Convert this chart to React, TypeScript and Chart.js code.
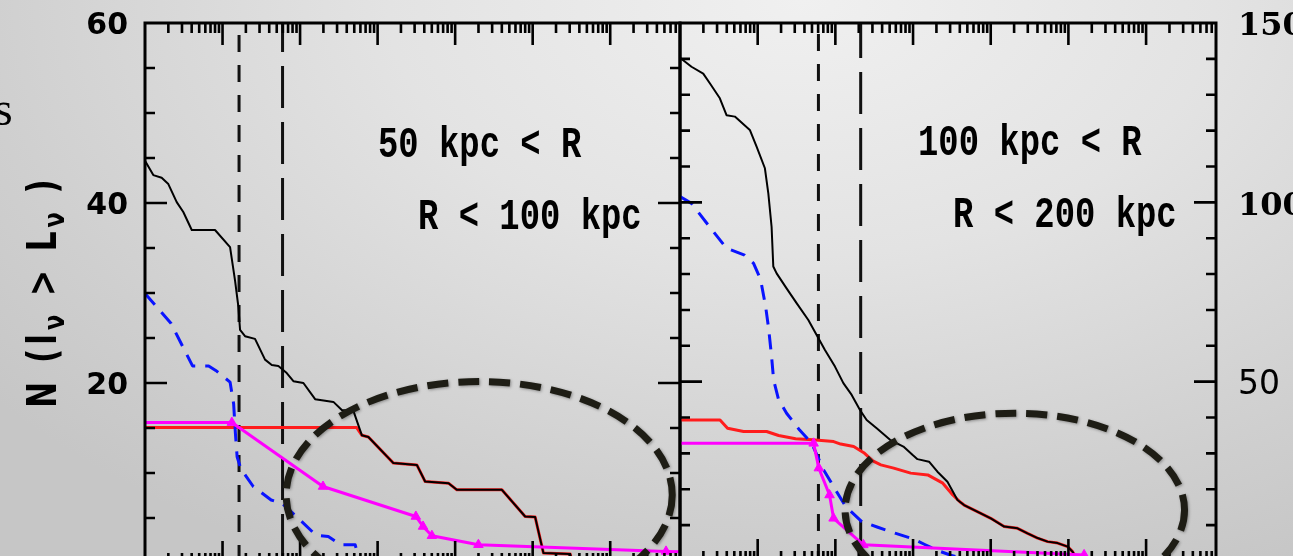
import React, { useEffect, useRef } from "react";
import { Chart, registerables } from "chart.js";

Chart.register(...registerables);

// ---------- shared x axis: log10 of L_nu (one decade per major tick) ----------
const logLMin = 15;
const logLMax = 21.9;

// ---------- left panel: 50 kpc < R < 100 kpc ----------
const leftLabels = ["50 kpc < R", "R < 100 kpc"];
const leftNMax = 60;
const leftNMajor = 20;
const leftNMinor = 5;

const leftBlackLogL = [15.0, 15.107, 15.215, 15.301, 15.409, 15.494, 15.603, 15.903, 16.097, 16.161, 16.204, 16.226, 16.29, 16.419, 16.548, 16.635, 16.72, 16.828, 16.914, 17.043, 17.194, 17.345, 17.43, 17.538, 17.688, 17.796, 17.881, 18.204, 18.506, 18.613, 18.914, 19.022, 19.603, 19.903, 20.032, 20.139, 20.484, 20.51];
const leftBlackN = [44.7, 43.1, 42.8, 42.1, 40.1, 39.0, 37.0, 37.0, 35.1, 31.4, 28.5, 25.9, 25.2, 24.9, 22.6, 22.0, 21.9, 21.1, 20.2, 20.0, 18.2, 18.0, 17.9, 17.0, 16.9, 14.2, 14.0, 11.1, 10.9, 9.05, 8.87, 8.13, 8.13, 5.17, 5.1, 1.1, 1.0, 0];

const leftRedLogL = [15.0, 17.73, 17.796, 17.881, 18.204, 18.506, 18.613, 18.914, 19.022, 19.603, 19.903, 20.032, 20.139, 20.484, 20.51];
const leftRedN = [15.05, 15.05, 14.2, 14.0, 11.1, 10.9, 9.05, 8.87, 8.13, 8.13, 5.17, 5.1, 1.1, 1.0, 0];

const leftBlueLogL = [15.0, 15.337, 15.498, 15.613, 15.821, 15.912, 16.097, 16.143, 16.166, 16.188, 16.235, 16.396, 16.627, 16.765, 16.973, 17.203, 17.364, 17.525, 17.71, 17.774];
const leftBlueN = [29.95, 26.6, 23.85, 21.9, 21.9, 21.4, 20.1, 17.7, 14.4, 11.8, 10.5, 8.5, 7.0, 6.65, 5.0, 3.1, 2.95, 2.03, 2.03, 0];

const leftMagentaLogL = [15.0, 16.12, 17.296, 18.493, 18.586, 18.7, 19.3, 21.72, 21.9];
const leftMagentaN = [15.6, 15.6, 8.5, 5.17, 4.06, 3.03, 2.03, 1.29, 1.25];
const leftMagentaMarked = [false, true, true, true, true, true, true, true, false];

const leftLimitShortLogL = 16.213;
const leftLimitLongLogL = 16.774;

const leftEllipse = { centerLogL: 19.31, centerN: 7.56, halfWidthDex: 2.49, halfHeightN: 12.6 };

// ---------- right panel: 100 kpc < R < 200 kpc ----------
const rightLabels = ["100 kpc < R", "R < 200 kpc"];
const rightNMax = 150;
const rightNMajor = 50;
const rightNMinor = 10;

const rightBlackLogL = [15.0, 15.148, 15.299, 15.384, 15.513, 15.599, 15.706, 15.899, 15.986, 16.093, 16.137, 16.179, 16.201, 16.244, 16.372, 16.501, 16.652, 16.759, 16.866, 16.995, 17.103, 17.21, 17.317, 17.403, 17.532, 17.704, 17.876, 17.992, 18.057, 18.206, 18.314, 18.443, 18.572, 18.657, 18.872, 19.001, 19.173, 19.345, 19.474, 19.603, 19.732, 19.861, 19.99, 20.054, 20.097, 20.135];
const rightBlackN = [140.3, 137.8, 135.9, 133.2, 129.0, 124.3, 123.9, 120.2, 115.5, 109.5, 102.5, 93.2, 82.1, 80.2, 76.0, 71.9, 67.2, 63.0, 58.8, 54.2, 49.6, 46.3, 42.1, 39.3, 37.0, 33.8, 31.9, 29.6, 28.4, 27.7, 24.9, 22.1, 17.0, 15.6, 13.3, 11.9, 9.6, 9.1, 7.7, 6.4, 5.4, 5.0, 4.0, 2.6, 1.0, 0];

const rightRedLogL = [15.0, 15.515, 15.612, 15.818, 16.115, 16.269, 16.488, 16.707, 16.978, 17.068, 17.236, 17.366, 17.482, 17.585, 17.751, 17.97, 18.189, 18.383, 18.512, 18.615, 18.657, 18.872, 19.001, 19.173, 19.345, 19.474, 19.603, 19.732, 19.861, 19.99, 20.054, 20.097, 20.135];
const rightRedN = [39.3, 39.3, 37.0, 36.1, 36.1, 35.0, 34.1, 33.8, 33.3, 32.6, 31.9, 30.2, 27.9, 26.8, 25.9, 24.5, 24.0, 21.7, 18.4, 16.3, 15.6, 13.3, 11.9, 9.6, 9.1, 7.7, 6.4, 5.4, 5.0, 4.0, 2.6, 1.0, 0];

const rightBlueLogL = [15.0, 15.148, 15.38, 15.599, 15.831, 15.947, 16.037, 16.102, 16.14, 16.179, 16.205, 16.269, 16.372, 16.54, 16.695, 16.785, 16.824, 16.978, 17.133, 17.34, 17.546, 17.778, 17.997, 18.151, 18.332, 18.486, 18.679];
const rightBlueN = [101.6, 99.7, 93.2, 87.2, 85.3, 83.0, 78.5, 71.0, 65.0, 57.0, 50.5, 45.0, 41.2, 36.5, 32.8, 28.5, 26.3, 20.7, 15.2, 11.0, 9.4, 7.7, 6.2, 4.6, 2.8, 1.6, 0.5];

const rightMagentaLogL = [15.0, 16.72, 16.787, 16.925, 16.977, 17.361, 20.202];
const rightMagentaN = [32.8, 32.8, 25.9, 18.4, 11.9, 4.5, 1.7];
const rightMagentaMarked = [false, true, true, true, true, true, true];

const rightLimitShortLogL = 16.782;
const rightLimitLongLogL = 17.326;

const rightEllipse = { centerLogL: 19.31, centerN: 14.2, halfWidthDex: 2.185, halfHeightN: 27.0 };

// ---------- helpers ----------
const pts = (logL: number[], n: number[]) => logL.map((l, i) => ({ x: Math.pow(10, l), y: n[i] }));
const vline = (logL: number, nMax: number) => [
  { x: Math.pow(10, logL), y: nMax },
  { x: Math.pow(10, logL), y: 0 },
];

const MAGENTA = "#ff00ff";
const RED = "#ff1c1c";
const BLUE = "#0a14ff";

const zeroPadding = (s: any) => {
  s.paddingTop = 0;
  s.paddingBottom = 0;
  s.paddingLeft = 0;
  s.paddingRight = 0;
};

const panelDecor = {
  id: "panelDecor",
  afterDatasetsDraw(chart: any, _args: any, opts: any) {
    const { ctx, chartArea: a } = chart;
    const xs = chart.scales.x;
    const ys = chart.scales.y;
    ctx.save();
    // frame
    ctx.strokeStyle = "#000";
    ctx.lineWidth = 3;
    ctx.strokeRect(a.left, a.top, a.right - a.left, a.bottom - a.top);
    // x ticks (log decades with minor ticks), inward on top and bottom
    ctx.lineWidth = 2.6;
    ctx.beginPath();
    const eMin = Math.floor(Math.log10(xs.min));
    const eMax = Math.ceil(Math.log10(xs.max));
    for (let e = eMin; e <= eMax; e++) {
      for (let m = 1; m <= 9; m++) {
        const v = m * Math.pow(10, e);
        if (v <= xs.min * 1.0001 || v > xs.max) continue;
        const px = xs.getPixelForValue(v);
        const len = m === 1 ? 22 : 10;
        ctx.moveTo(px, a.top);
        ctx.lineTo(px, a.top + len);
        ctx.moveTo(px, a.bottom);
        ctx.lineTo(px, a.bottom - len);
      }
    }
    // y ticks, inward on left and right
    for (let v = opts.minor; v < ys.max; v += opts.minor) {
      const py = ys.getPixelForValue(v);
      const len = v % opts.major === 0 ? 22 : 10;
      ctx.moveTo(a.left, py);
      ctx.lineTo(a.left + len, py);
      ctx.moveTo(a.right, py);
      ctx.lineTo(a.right - len, py);
    }
    ctx.stroke();
    // panel labels
    ctx.fillStyle = "#000";
    ctx.font = 'bold 44px "Liberation Mono"';
    ctx.textBaseline = "alphabetic";
    ctx.textAlign = "left";
    for (const t of opts.texts) {
      ctx.save();
      ctx.translate(a.left + t.dx, a.top + t.dy);
      ctx.scale(0.77, 1);
      ctx.fillText(t.text, 0, 0);
      ctx.restore();
    }
    // highlighted region (dashed ellipse)
    const el = opts.ellipse;
    const cx = xs.getPixelForValue(Math.pow(10, el.centerLogL));
    const rx = xs.getPixelForValue(Math.pow(10, el.centerLogL + el.halfWidthDex)) - cx;
    const cy = ys.getPixelForValue(el.centerN);
    const ry = cy - ys.getPixelForValue(el.centerN + el.halfHeightN);
    ctx.setLineDash([21, 10]);
    ctx.lineWidth = 7;
    ctx.strokeStyle = "#1e1d15";
    ctx.shadowColor = "rgba(0,0,0,0.35)";
    ctx.shadowBlur = 3;
    ctx.shadowOffsetX = 1;
    ctx.shadowOffsetY = 1;
    ctx.beginPath();
    ctx.ellipse(cx, cy, rx, ry, 0, 0, Math.PI * 2);
    ctx.stroke();
    ctx.restore();
  },
};

function panelConfig(p: any) {
  return {
    type: "line",
    data: {
      datasets: [
        {
          data: pts(p.magLogL, p.magN),
          borderColor: MAGENTA,
          backgroundColor: MAGENTA,
          borderWidth: 3,
          pointStyle: "triangle",
          pointRadius: p.magMarked.map((m: boolean) => (m ? 5.5 : 0)),
          pointBackgroundColor: MAGENTA,
          pointBorderColor: MAGENTA,
          pointBorderWidth: 1,
        },
        { data: pts(p.blackLogL, p.blackN), borderColor: "#000", borderWidth: 2, pointRadius: 0 },
        { data: pts(p.blueLogL, p.blueN), borderColor: BLUE, borderWidth: 3, borderDash: [15, 10], pointRadius: 0 },
        { data: pts(p.redLogL, p.redN), borderColor: RED, borderWidth: 3, pointRadius: 0 },
        {
          data: vline(p.shortLogL, p.nMax),
          borderColor: "#111",
          borderWidth: 3,
          borderDash: [17, 13],
          borderDashOffset: p.shortOffset,
          pointRadius: 0,
        },
        {
          data: vline(p.longLogL, p.nMax),
          borderColor: "#111",
          borderWidth: 3,
          borderDash: [42, 14],
          borderDashOffset: p.longOffset,
          pointRadius: 0,
        },
      ],
    },
    options: {
      animation: false,
      responsive: false,
      maintainAspectRatio: false,
      events: [],
      elements: { line: { tension: 0, fill: false, borderCapStyle: "butt", borderJoinStyle: "round" } },
      layout: { padding: p.padding },
      plugins: {
        legend: { display: false },
        tooltip: { enabled: false },
        panelDecor: { major: p.nMajor, minor: p.nMinor, texts: p.texts, ellipse: p.ellipse },
      },
      scales: {
        x: {
          type: "logarithmic",
          min: Math.pow(10, logLMin),
          max: Math.pow(10, logLMax),
          grid: { display: false, drawTicks: false },
          border: { display: false },
          ticks: { display: false },
          afterFit: (s: any) => {
            s.height = 0;
            zeroPadding(s);
          },
        },
        y: {
          type: "linear",
          position: p.yPosition,
          min: 0,
          max: p.nMax,
          grid: { display: false, drawTicks: false },
          border: { display: false },
          ticks: {
            stepSize: p.nMajor,
            padding: p.tickPadding,
            labelOffset: p.labelOffset,
            color: "#000",
            font: p.tickFont,
            callback: (v: number) => (v === 0 ? "" : String(v)),
          },
          afterFit: (s: any) => {
            s.width = p.axisWidth;
            zeroPadding(s);
          },
        },
      },
    },
    plugins: [panelDecor],
  };
}

const subStyle = { fontSize: "0.72em", verticalAlign: "-0.3em", lineHeight: 0 };

export default function App() {
  const leftRef = useRef<HTMLCanvasElement>(null);
  const rightRef = useRef<HTMLCanvasElement>(null);

  useEffect(() => {
    document.documentElement.style.overflow = "hidden";
    document.body.style.overflow = "hidden";
    const left = new Chart(
      leftRef.current as HTMLCanvasElement,
      panelConfig({
        magLogL: leftMagentaLogL,
        magN: leftMagentaN,
        magMarked: leftMagentaMarked,
        blackLogL: leftBlackLogL,
        blackN: leftBlackN,
        blueLogL: leftBlueLogL,
        blueN: leftBlueN,
        redLogL: leftRedLogL,
        redN: leftRedN,
        shortLogL: leftLimitShortLogL,
        longLogL: leftLimitLongLogL,
        shortOffset: 18,
        longOffset: 13,
        nMax: leftNMax,
        nMajor: leftNMajor,
        nMinor: leftNMinor,
        padding: { left: 0, right: 10, top: 23, bottom: 17 },
        yPosition: "left",
        tickPadding: 17,
        labelOffset: 3,
        tickFont: { family: "DejaVu Sans", weight: "bold", size: 30 },
        axisWidth: 145,
        texts: [
          { text: leftLabels[0], dx: 233, dy: 134 },
          { text: leftLabels[1], dx: 273, dy: 206 },
        ],
        ellipse: leftEllipse,
      }) as any
    );
    const right = new Chart(
      rightRef.current as HTMLCanvasElement,
      panelConfig({
        magLogL: rightMagentaLogL,
        magN: rightMagentaN,
        magMarked: rightMagentaMarked,
        blackLogL: rightBlackLogL,
        blackN: rightBlackN,
        blueLogL: rightBlueLogL,
        blueN: rightBlueN,
        redLogL: rightRedLogL,
        redN: rightRedN,
        shortLogL: rightLimitShortLogL,
        longLogL: rightLimitLongLogL,
        shortOffset: 19,
        longOffset: 7,
        nMax: rightNMax,
        nMajor: rightNMajor,
        nMinor: rightNMinor,
        padding: { left: 10, right: 0, top: 23, bottom: 19 },
        yPosition: "right",
        tickPadding: 22,
        labelOffset: 4,
        tickFont: (c: any) =>
          c.tick && c.tick.value === 50
            ? { family: "DejaVu Sans", weight: "normal", size: 33 }
            : { family: "DejaVu Serif", weight: "bold", size: 32 },
        axisWidth: 77,
        texts: [
          { text: rightLabels[0], dx: 238, dy: 132 },
          { text: rightLabels[1], dx: 273, dy: 204 },
        ],
        ellipse: rightEllipse,
      }) as any
    );
    return () => {
      left.destroy();
      right.destroy();
    };
  }, []);

  return (
    <div
      style={{
        position: "fixed",
        left: 0,
        top: 0,
        width: 1293,
        height: 556,
        overflow: "hidden",
        background:
          "radial-gradient(ellipse 80% 115% at 62% 0%, #f0f0f0 0%, #e3e3e3 40%, #cfcfcf 80%, #c6c6c6 100%)",
      }}
    >
      <div
        style={{
          position: "absolute",
          left: -6,
          top: 85,
          font: '48px "Liberation Serif"',
          lineHeight: "48px",
          color: "#000",
        }}
      >
        s
      </div>
      <div
        style={{
          position: "absolute",
          left: 38 - 150,
          top: 291.5 - 15.5,
          width: 300,
          height: 31,
          lineHeight: "31px",
          font: 'bold 31px "DejaVu Sans"',
          letterSpacing: "4px",
          whiteSpace: "nowrap",
          textAlign: "center",
          color: "#000",
          transform: "rotate(-90deg) scale(1, 1.3)",
          transformOrigin: "50% 50%",
        }}
      >
        N (l<sub style={subStyle}>ν</sub> &gt; L<sub style={subStyle}>ν</sub> )
      </div>
      <canvas
        ref={leftRef}
        width={690}
        height={580}
        style={{ position: "absolute", left: 0, top: 0, width: 690, height: 580 }}
      />
      <canvas
        ref={rightRef}
        width={623}
        height={580}
        style={{ position: "absolute", left: 670, top: 0, width: 623, height: 580 }}
      />
    </div>
  );
}
